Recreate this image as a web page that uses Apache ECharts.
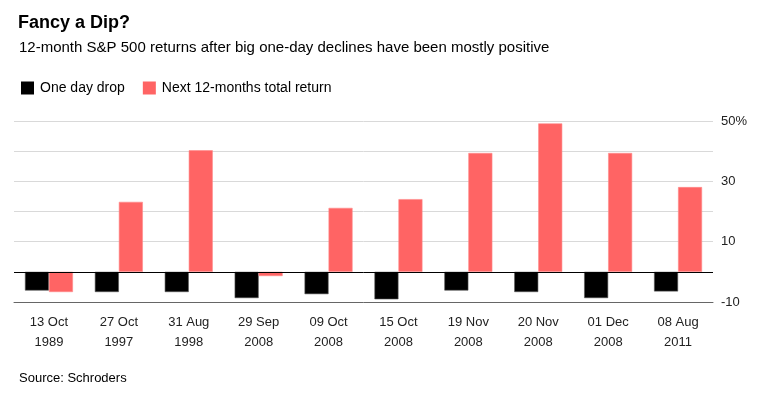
<!DOCTYPE html>
<html lang="en">
<head>
    <title>Fancy a Dip?</title>
    <meta charset="utf-8" />
    <script src="https://cdn.jsdelivr.net/npm/echarts@6/dist/echarts.min.js"></script>
    <style>
        body { margin: 0; background-color: #fff; }
        #main { width: 757px; height: 398px; }
    </style>
</head>
<body>
<div id="main"></div>
<script type="text/javascript">
    let categories = ['13 Oct\n1989', '27 Oct\n1997', '31 Aug\n1998', '29 Sep\n2008', '09 Oct\n2008',
        '15 Oct\n2008', '19 Nov\n2008', '20 Nov\n2008', '01 Dec\n2008', '08 Aug\n2011']
    let oneDayDrop = [-6.2, -6.7, -6.7, -8.7, -7.4, -9.1, -6.2, -6.7, -8.7, -6.5]
    let nextReturn = [-6.7, 23.2, 40.3, -1.4, 21.2, 24.1, 39.4, 49.2, 39.4, 28.1]
    let yTickLabels = {50: '50%', 30: '30', 10: '10', '-10': '-10'}

    let font = '"Liberation Sans", Arial, sans-serif'
    let colorDrop = '#000000'
    let colorReturn = '#ff6464'

    let myChart = echarts.init(document.getElementById('main'), null, {renderer: 'canvas'})

    myChart.setOption({
        animation: false,
        textStyle: { fontFamily: font },
        title: [
            { text: 'Fancy a Dip?', left: 13, top: 9,
              textStyle: { fontFamily: font, fontSize: 18, fontWeight: 'bold', color: '#000' } },
            { text: '12-month S&P 500 returns after big one-day declines have been mostly positive', left: 14, top: 35,
              textStyle: { fontFamily: font, fontSize: 15, fontWeight: 'normal', color: '#000' } },
            { text: 'Source: Schroders', left: 14, top: 367,
              textStyle: { fontFamily: font, fontSize: 13, fontWeight: 'normal', color: '#000' } }
        ],
        legend: {
            left: 16, top: 76,
            itemWidth: 13, itemHeight: 13, itemGap: 18,
            icon: 'rect',
            itemStyle: { borderWidth: 0 },
            textStyle: { fontFamily: font, fontSize: 14, color: '#000', padding: [0, 0, 0, 1] },
            data: ['One day drop', 'Next 12-months total return']
        },
        grid: { left: 14, right: 44, top: 121, bottom: 96, containLabel: false },
        xAxis: {
            type: 'category',
            data: categories,
            axisLine: { onZero: false, lineStyle: { color: '#666', width: 1 } },
            axisTick: { alignWithLabel: true, length: 4, lineStyle: { color: '#333' } },
            axisLabel: { fontFamily: font, fontSize: 13, color: '#222', lineHeight: 20, margin: 10 }
        },
        yAxis: {
            type: 'value',
            position: 'right',
            min: -10, max: 50, interval: 10,
            axisLine: { show: false },
            axisTick: { show: false },
            splitLine: { lineStyle: { color: '#d9d9d9', width: 1 } },
            axisLabel: {
                fontFamily: font, fontSize: 13, color: '#222', margin: 8,
                formatter: function (v) { return yTickLabels[v] || '' }
            }
        },
        series: [
            {
                name: 'One day drop', type: 'bar', data: oneDayDrop,
                barWidth: 24, barGap: '0%',
                itemStyle: { color: colorDrop, borderColor: '#555', borderWidth: 0.6 },
                markLine: {
                    silent: true, symbol: 'none', label: { show: false },
                    lineStyle: { color: '#000', width: 1, type: 'solid' },
                    data: [{ yAxis: 0 }]
                }
            },
            {
                name: 'Next 12-months total return', type: 'bar', data: nextReturn,
                barWidth: 24,
                itemStyle: { color: colorReturn, borderColor: '#ff8a8a', borderWidth: 0.6 }
            }
        ]
    })
</script>
</body>
</html>
